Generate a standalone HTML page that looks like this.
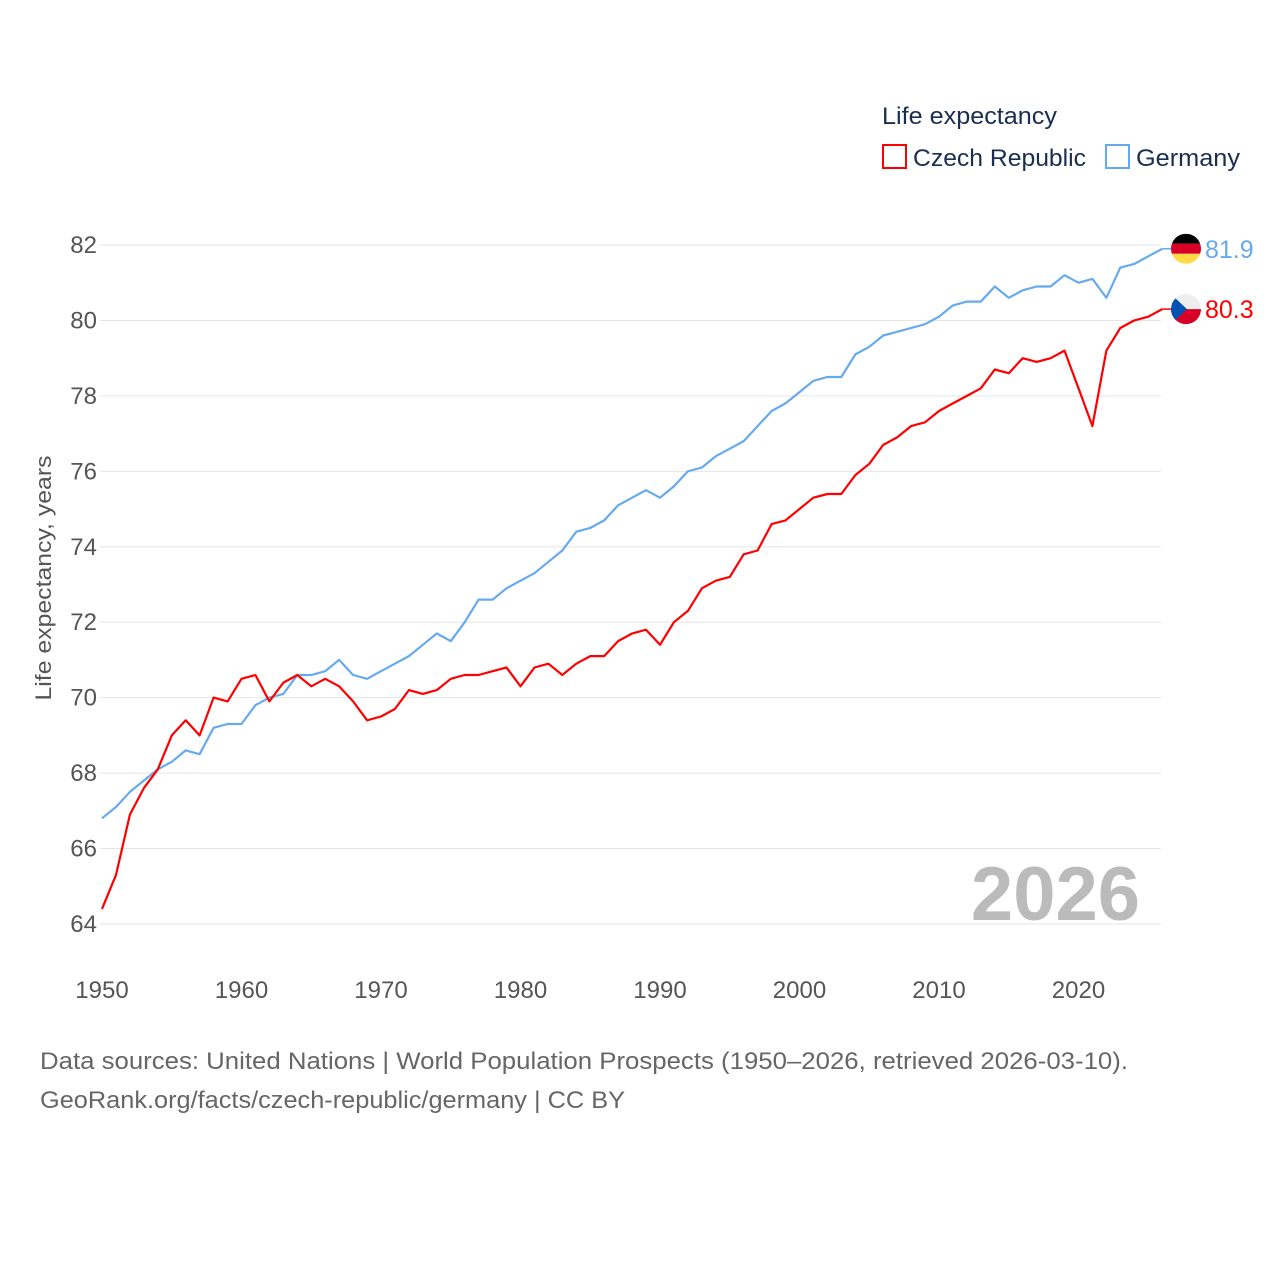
<!DOCTYPE html>
<html><head><meta charset="utf-8"><style>
html,body{margin:0;padding:0;background:#fff;}
svg{display:block;font-family:"Liberation Sans",sans-serif;}
</style></head><body>
<svg id="chart" width="1280" height="1280" viewBox="0 0 1280 1280" xmlns="http://www.w3.org/2000/svg">
<text x="882" y="124" font-size="24" fill="#1a2e4f" textLength="175" lengthAdjust="spacingAndGlyphs">Life expectancy</text>
<g>
<rect x="883" y="145" width="23" height="23" fill="none" stroke="#ff0000" stroke-width="2"/>
<text x="913" y="166" font-size="24" fill="#1a2e4f" textLength="173" lengthAdjust="spacingAndGlyphs">Czech Republic</text>
</g>
<g>
<rect x="1106" y="145" width="23" height="23" fill="none" stroke="#66aaee" stroke-width="2"/>
<text x="1136" y="166" font-size="24" fill="#1a2e4f" textLength="104" lengthAdjust="spacingAndGlyphs">Germany</text>
</g>
<g id="grid"></g>
<g id="yticks"></g>
<g id="xticks"></g>
<text transform="translate(51,578) rotate(-90)" text-anchor="middle" font-size="22" fill="#555" textLength="245" lengthAdjust="spacingAndGlyphs">Life expectancy, years</text>
<text x="1140" y="920" text-anchor="end" font-size="76" font-weight="bold" fill="#bbbbbb">2026</text>
<g id="series"></g>
<g id="endlabels"></g>
<text x="40" y="1069" font-size="24" fill="#666" textLength="1088" lengthAdjust="spacingAndGlyphs">Data sources: United Nations | World Population Prospects (1950–2026, retrieved 2026-03-10).</text>
<text x="40" y="1108" font-size="24" fill="#666" textLength="585" lengthAdjust="spacingAndGlyphs">GeoRank.org/facts/czech-republic/germany | CC BY</text>
</svg>
<script>
const years = [];
for (let y = 1950; y <= 2026; y++) years.push(y);
const czech = [64.4,65.3,66.9,67.6,68.1,69.0,69.4,69.0,70.0,69.9,70.5,70.6,69.9,70.4,70.6,70.3,70.5,70.3,69.9,69.4,69.5,69.7,70.2,70.1,70.2,70.5,70.6,70.6,70.7,70.8,70.3,70.8,70.9,70.6,70.9,71.1,71.1,71.5,71.7,71.8,71.4,72.0,72.3,72.9,73.1,73.2,73.8,73.9,74.6,74.7,75.0,75.3,75.4,75.4,75.9,76.2,76.7,76.9,77.2,77.3,77.6,77.8,78.0,78.2,78.7,78.6,79.0,78.9,79.0,79.2,78.2,77.2,79.2,79.8,80.0,80.1,80.3];
const germany = [66.8,67.1,67.5,67.8,68.1,68.3,68.6,68.5,69.2,69.3,69.3,69.8,70.0,70.1,70.6,70.6,70.7,71.0,70.6,70.5,70.7,70.9,71.1,71.4,71.7,71.5,72.0,72.6,72.6,72.9,73.1,73.3,73.6,73.9,74.4,74.5,74.7,75.1,75.3,75.5,75.3,75.6,76.0,76.1,76.4,76.6,76.8,77.2,77.6,77.8,78.1,78.4,78.5,78.5,79.1,79.3,79.6,79.7,79.8,79.9,80.1,80.4,80.5,80.5,80.9,80.6,80.8,80.9,80.9,81.2,81.0,81.1,80.6,81.4,81.5,81.7,81.9];
const yTicks = [64,66,68,70,72,74,76,78,80,82];
const xTicks = [1950,1960,1970,1980,1990,2000,2010,2020];
const NS = "http://www.w3.org/2000/svg";
const X = yr => 102 + (yr - 1950) * 13.95;
const Y = v => 245 + (82 - v) * 37.72;
function mk(tag, attrs, parent) { const e = document.createElementNS(NS, tag); for (const k in attrs) e.setAttribute(k, attrs[k]); parent.appendChild(e); return e; }
const grid = document.getElementById('grid'), yt = document.getElementById('yticks'), xt = document.getElementById('xticks');
yTicks.forEach(v => {
  const l = mk('line', {x1:100, x2:1161, y1:Y(v), y2:Y(v), stroke:'#e6e6e6', 'stroke-width':1}, grid);
  
  
  const t = mk('text', {x:97, y:Y(v)+8, 'text-anchor':'end', 'font-size':24, fill:'#555'}, yt);
  
  
  t.textContent = v;
});
xTicks.forEach(yr => {
  const t = mk('text', {x:X(yr), y:998, 'text-anchor':'middle', 'font-size':24, fill:'#555'}, xt);
  
  
  t.textContent = yr;
});
const ser = document.getElementById('series');
function line(vals, color, name) {
  const d = vals.map((v,i) => (i?'L':'M') + X(years[i]).toFixed(1) + ',' + Y(v).toFixed(1)).join(' ');
  const p = mk('path', {d:d, fill:'none', stroke:color, 'stroke-width':2.2, 'stroke-linejoin':'round'}, ser);
  
  
}
line(germany, '#66aaee', 'germany-line');
line(czech, '#ff0000', 'czech-line');
const el = document.getElementById('endlabels');
function endLabel(vals, color, name, flag) {
  const v = vals[vals.length-1], yy = Y(v), x0 = X(years[years.length-1]);
  mk('line', {x1:x0, x2:1172, y1:yy, y2:yy, stroke:color, 'stroke-width':1.5}, el);
  const g = mk('g', {}, el);
  
  
  const cx = 1186, r = 15;
  const id = name + '-clip';
  const cp = mk('clipPath', {id:id}, g); mk('circle', {cx:cx, cy:yy, r:r}, cp);
  const gg = mk('g', {'clip-path':'url(#'+id+')'}, g);
  if (flag === 'de') {
    mk('rect', {x:cx-r, y:yy-r, width:2*r, height:2*r/3, fill:'#000'}, gg);
    mk('rect', {x:cx-r, y:yy-r/3, width:2*r, height:2*r/3, fill:'#d80027'}, gg);
    mk('rect', {x:cx-r, y:yy+r/3, width:2*r, height:2*r/3, fill:'#ffda44'}, gg);
  } else {
    mk('rect', {x:cx-r, y:yy-r, width:2*r, height:r, fill:'#eeeeee'}, gg);
    mk('rect', {x:cx-r, y:yy, width:2*r, height:r, fill:'#d80027'}, gg);
    mk('polygon', {points:(cx-r)+','+(yy-r)+' '+(cx+1)+','+yy+' '+(cx-r)+','+(yy+r), fill:'#0052b4'}, gg);
  }
  const t = mk('text', {x:1205, y:yy+9, 'font-size':25, fill:color}, el);
  
  
  t.textContent = v.toFixed(1);
}
endLabel(germany, '#66aaee', 'germany', 'de');
endLabel(czech, '#ff0000', 'czech', 'cz');
</script>
</body></html>
